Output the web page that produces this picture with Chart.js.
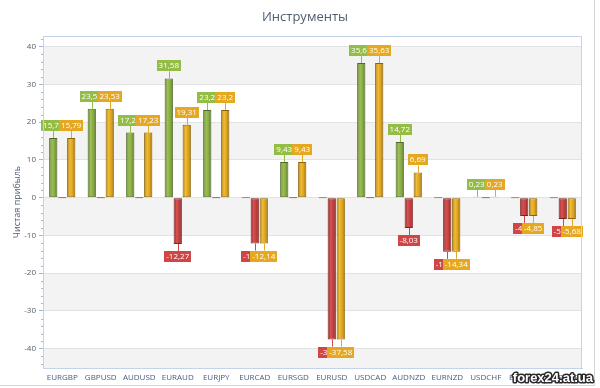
<!DOCTYPE html>
<html>
<head>
<meta charset="utf-8">
<script src="https://cdn.jsdelivr.net/npm/chart.js@4.4.1/dist/chart.umd.min.js"></script>
<style>
html,body{margin:0;padding:0;background:#fff;}
#wrap{width:600px;height:388px;}
</style>
</head>
<body>
<div id="wrap"><canvas id="c" width="600" height="388"></canvas></div>
<script>
const categories = ['EURGBP','GBPUSD','AUDUSD','EURAUD','EURJPY','EURCAD','EURSGD','EURUSD','USDCAD','AUDNZD','EURNZD','USDCHF','EURCHF','GBPCHF'];
const profitValues = [15.79, 23.53, 17.23, 31.58, 23.2, 0, 9.43, 0, 35.63, 14.72, 0, 0.23, 0, 0];
const lossValues = [0, 0, 0, -12.27, 0, -12.14, 0, -37.58, 0, -8.03, -14.34, 0, -4.85, -5.68];
const totalValues = [15.79, 23.53, 17.23, 19.31, 23.2, -12.14, 9.43, -37.58, 35.63, 6.69, -14.34, 0.23, -4.85, -5.68];
const yTickValues = [40, 30, 20, 10, 0, -10, -20, -30, -40];

const FONT = "'Open Sans', 'Noto Sans', sans-serif";

const palettes = [
  {stops:['#5f7d2a','#9dc055','#86a844','#4d6a1f'], border:'#4f6a24', label:'#94bd45'},
  {stops:['#8e2424','#d55252','#bf3e3e','#7a1a1a'], border:'#7d2222', label:'#d04545'},
  {stops:['#a87a08','#f0bb35','#dba21c','#8a6004'], border:'#8c6408', label:'#e5a820'}
];

function barFill(ctx) {
  const p = palettes[ctx.datasetIndex];
  const meta = ctx.chart.getDatasetMeta(ctx.datasetIndex);
  const el = meta.data[ctx.dataIndex];
  if (!el || el.x == null || isNaN(el.x) || !el.width) return p.stops[2];
  const g = ctx.chart.ctx.createLinearGradient(el.x - el.width/2, 0, el.x + el.width/2, 0);
  g.addColorStop(0, p.stops[0]);
  g.addColorStop(0.35, p.stops[1]);
  g.addColorStop(0.7, p.stops[2]);
  g.addColorStop(1, p.stops[3]);
  return g;
}

const bandsPlugin = {
  id: 'bands',
  beforeDraw(chart) {
    const {ctx, chartArea: a, scales: {y}} = chart;
    ctx.save();
    ctx.fillStyle = '#ffffff';
    ctx.fillRect(a.left, a.top, a.right - a.left, a.bottom - a.top);
    ctx.fillStyle = '#f3f3f3';
    const bands = [[-50,-40],[-30,-20],[-10,0],[10,20],[30,40]];
    bands.forEach(([lo, hi]) => {
      let t = Math.max(a.top, y.getPixelForValue(hi));
      let b = Math.min(a.bottom, y.getPixelForValue(lo));
      if (b > t) ctx.fillRect(a.left, t, a.right - a.left, b - t);
    });
    ctx.restore();
  }
};

function fmt(v) { return String(v).replace('.', ','); }

const labelPlugin = {
  id: 'barLabels',
  afterDatasetsDraw(chart) {
    const {ctx} = chart;
    ctx.save();
    ctx.font = '8px ' + FONT;
    ctx.textAlign = 'center';
    ctx.textBaseline = 'middle';
    chart.data.datasets.forEach((ds, di) => {
      const meta = chart.getDatasetMeta(di);
      const color = palettes[di].label;
      meta.data.forEach((el, i) => {
        const v = ds.data[i];
        if (!v) return;
        const txt = fmt(v);
        const w = ctx.measureText(txt).width + 4;
        const h = 11;
        const gap = 7;
        let boxTop, lineFrom, lineTo;
        if (v > 0) {
          boxTop = el.y - gap - h;
          lineFrom = el.y; lineTo = el.y - gap;
        } else {
          boxTop = el.y + gap;
          lineFrom = el.y; lineTo = el.y + gap;
        }
        ctx.strokeStyle = color;
        ctx.lineWidth = 1;
        ctx.beginPath();
        ctx.moveTo(Math.round(el.x) + 0.5, lineFrom);
        ctx.lineTo(Math.round(el.x) + 0.5, lineTo);
        ctx.stroke();
        ctx.fillStyle = color;
        ctx.fillRect(Math.round(el.x - w/2), Math.round(boxTop), Math.round(w), h);
        ctx.fillStyle = '#ffffff';
        ctx.fillText(txt, el.x, Math.round(boxTop) + h/2 + 0.5);
      });
    });
    ctx.restore();
  },
  afterDraw(chart) {
    const {ctx, chartArea: a, scales: {y}} = chart;
    ctx.save();
    // plot frame
    ctx.strokeStyle = '#c2d3ea';
    ctx.lineWidth = 1;
    ctx.strokeRect(a.left + 0.5, a.top + 0.5, a.right - a.left - 1, a.bottom - a.top);
    // minor ticks on y axis
    ctx.strokeStyle = '#9fb8dc';
    for (let v = -44; v <= 42; v += 2) {
      if (v % 10 === 0) continue;
      const py = Math.round(y.getPixelForValue(v)) + 0.5;
      ctx.beginPath();
      ctx.moveTo(a.left - 2, py);
      ctx.lineTo(a.left, py);
      ctx.stroke();
    }
    // outer frame (right/bottom)
    ctx.strokeStyle = '#d4d4d4';
    ctx.beginPath();
    ctx.moveTo(594.5, 0);
    ctx.lineTo(594.5, 385.5);
    ctx.lineTo(0, 385.5);
    ctx.stroke();
    // watermark
    ctx.font = "bold 13px 'Liberation Sans', sans-serif";
    ctx.textAlign = 'right';
    ctx.textBaseline = 'alphabetic';
    ctx.lineWidth = 3;
    ctx.strokeStyle = '#2a2a2a';
    ctx.lineJoin = 'round';
    ctx.strokeText('forex24.at.ua', 593, 382);
    ctx.fillStyle = '#ffffff';
    ctx.fillText('forex24.at.ua', 593, 382);
    ctx.restore();
  }
};

function makeDataset(label, data) {
  return {
    label: label,
    data: data,
    backgroundColor: barFill,
    borderColor: (ctx) => palettes[ctx.datasetIndex].border,
    borderWidth: 1,
    borderSkipped: false,
    minBarLength: 1,
    categoryPercentage: 0.7,
    barPercentage: 0.92
  };
}

const chart = new Chart(document.getElementById('c'), {
  type: 'bar',
  data: {
    labels: categories,
    datasets: [
      makeDataset('Прибыль', profitValues),
      makeDataset('Убыток', lossValues),
      makeDataset('Итого', totalValues)
    ]
  },
  options: {
    responsive: false,
    animation: false,
    events: [],
    layout: {padding: {left: 10, right: 0, top: 0, bottom: 0}},
    plugins: {
      legend: {display: false},
      tooltip: {enabled: false},
      title: {
        display: true,
        text: 'Инструменты',
        color: '#4e5d6f',
        font: {family: FONT, size: 13, weight: 'normal'},
        padding: {top: 9, bottom: 11.4}
      }
    },
    scales: {
      x: {
        grid: {display: false, drawTicks: false},
        border: {display: true, color: '#c2d3ea'},
        ticks: {color: '#4a5a82', font: {family: FONT, size: 8}, padding: 5, maxRotation: 0, autoSkip: false},
        afterFit(s) { s.height = 20; }
      },
      y: {
        min: -45.1,
        max: 42.8,
        afterBuildTicks(s) { s.ticks = yTickValues.map(v => ({value: v})); },
        grid: {color: '#e2e2e2', tickColor: '#9fb8dc', tickLength: 4, drawTicks: true},
        border: {display: true, color: '#c2d3ea'},
        ticks: {color: '#555b66', font: {family: FONT, size: 8}, padding: 3, includeBounds: false},
        title: {display: true, text: 'Чистая прибыль', color: '#4e5d6f', font: {family: FONT, size: 9}, padding: {top: 2, bottom: 0}},
        afterFit(s) { s.width = 33; }
      },
      y2: {
        position: 'right',
        display: true,
        min: -45.1, max: 42.8,
        grid: {display: false, drawTicks: false},
        border: {display: false},
        ticks: {display: false},
        afterFit(s) { s.width = 18; }
      }
    }
  },
  plugins: [bandsPlugin, labelPlugin]
});
chart.update('none');
</script>
</body>
</html>
